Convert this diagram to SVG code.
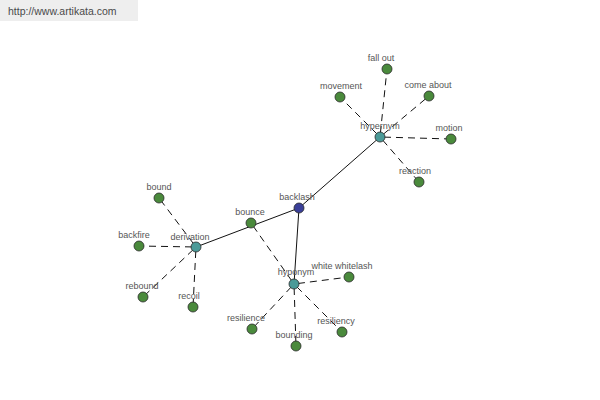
<svg xmlns="http://www.w3.org/2000/svg" width="600" height="400" viewBox="0 0 600 400">
<style>
.solid{stroke:#111;stroke-width:1;fill:none}
.dash{stroke:#111;stroke-width:1;stroke-dasharray:7 5;stroke-dashoffset:-4;fill:none}
.n{stroke:#2a2a2a;stroke-width:0.8}
.leaf{fill:#4a8a3c}
.hub{fill:#4a9a98}
.root{fill:#3a3f98}
text{font-family:"Liberation Sans",Arial,sans-serif;font-size:9px;fill:#555;text-anchor:middle}
</style>
<rect width="600" height="400" fill="#fff"/>
<g id="header">
<rect x="0" y="0" width="138" height="21" fill="#eeeeee"/>
<text x="8" y="15" style="font-size:10.5px;fill:#4a4a4a;text-anchor:start">http://www.artikata.com</text>
</g>
<g id="connectors">
<line class="solid" x1="299" y1="208" x2="380" y2="137"/>
<line class="solid" x1="299" y1="208" x2="196" y2="247"/>
<line class="solid" x1="299" y1="208" x2="294" y2="284"/>
<line class="dash" x1="380" y1="137" x2="387" y2="69"/>
<line class="dash" x1="380" y1="137" x2="340" y2="97"/>
<line class="dash" x1="380" y1="137" x2="429" y2="96"/>
<line class="dash" x1="380" y1="137" x2="451" y2="139"/>
<line class="dash" x1="380" y1="137" x2="419" y2="182"/>
<line class="dash" x1="196" y1="247" x2="159" y2="198"/>
<line class="dash" x1="196" y1="247" x2="139" y2="246"/>
<line class="dash" x1="196" y1="247" x2="143" y2="297"/>
<line class="dash" x1="196" y1="247" x2="193" y2="307"/>
<line class="dash" x1="294" y1="284" x2="251" y2="223"/>
<line class="dash" x1="294" y1="284" x2="349" y2="277"/>
<line class="dash" x1="294" y1="284" x2="252" y2="329"/>
<line class="dash" x1="294" y1="284" x2="296" y2="346"/>
<line class="dash" x1="294" y1="284" x2="342" y2="332"/>
</g>
<g id="n-backlash"><circle class="n root" cx="299" cy="208" r="5"/><text x="297" y="200">backlash</text></g>
<g id="n-hypernym"><circle class="n hub" cx="380" cy="137" r="5"/><text x="380" y="129">hypernym</text></g>
<g id="n-hyponym"><circle class="n hub" cx="294" cy="284" r="5"/><text x="296" y="275">hyponym</text></g>
<g id="n-derivation"><circle class="n hub" cx="196" cy="247" r="5"/><text x="190" y="240">derivation</text></g>
<g id="n-bounce"><circle class="n leaf" cx="251" cy="223" r="5"/><text x="250" y="215">bounce</text></g>
<g id="n-fallout"><circle class="n leaf" cx="387" cy="69" r="5"/><text x="381" y="61">fall out</text></g>
<g id="n-movement"><circle class="n leaf" cx="340" cy="97" r="5"/><text x="341" y="89">movement</text></g>
<g id="n-comeabout"><circle class="n leaf" cx="429" cy="96" r="5"/><text x="428" y="88">come about</text></g>
<g id="n-motion"><circle class="n leaf" cx="451" cy="139" r="5"/><text x="449" y="131">motion</text></g>
<g id="n-reaction"><circle class="n leaf" cx="419" cy="182" r="5"/><text x="415" y="174">reaction</text></g>
<g id="n-bound"><circle class="n leaf" cx="159" cy="198" r="5"/><text x="159" y="190">bound</text></g>
<g id="n-backfire"><circle class="n leaf" cx="139" cy="246" r="5"/><text x="134" y="238">backfire</text></g>
<g id="n-rebound"><circle class="n leaf" cx="143" cy="297" r="5"/><text x="142" y="289">rebound</text></g>
<g id="n-recoil"><circle class="n leaf" cx="193" cy="307" r="5"/><text x="189" y="299">recoil</text></g>
<g id="n-whitelash"><circle class="n leaf" cx="349" cy="277" r="5"/><text x="342" y="269">white whitelash</text></g>
<g id="n-resilience"><circle class="n leaf" cx="252" cy="329" r="5"/><text x="246" y="321">resilience</text></g>
<g id="n-bounding"><circle class="n leaf" cx="296" cy="346" r="5"/><text x="294" y="338">bounding</text></g>
<g id="n-resiliency"><circle class="n leaf" cx="342" cy="332" r="5"/><text x="336" y="324">resiliency</text></g>
</svg>
